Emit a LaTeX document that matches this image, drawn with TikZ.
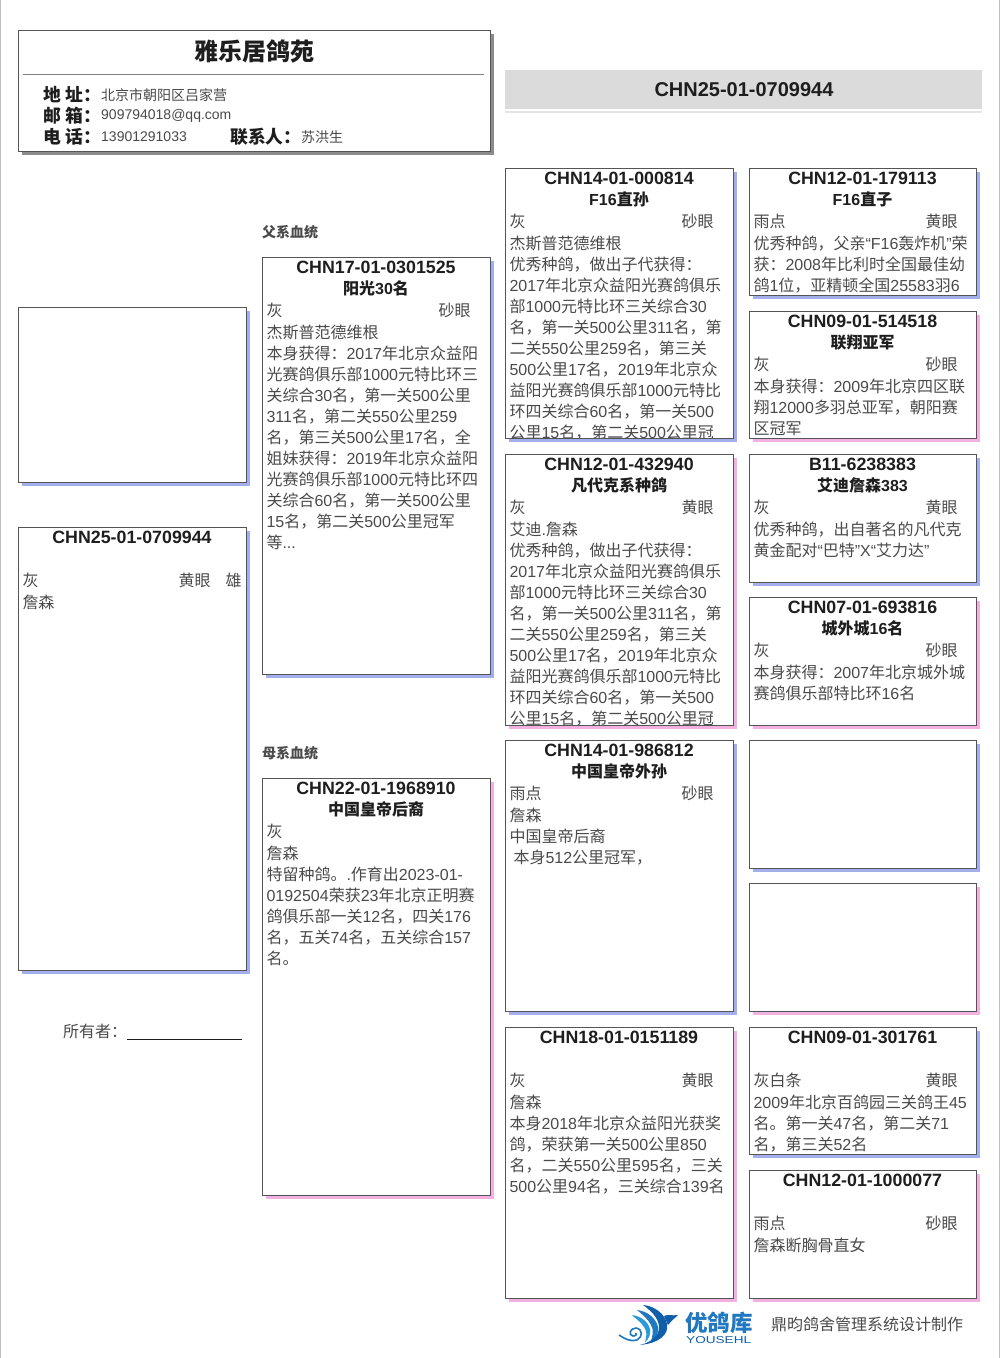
\documentclass[tikz,border=0pt]{standalone}
\usepackage{fontspec}
\setmainfont{Liberation Sans}
\newfontfamily\latfam{Liberation Sans}
\newfontfamily\cjkfam{Noto Sans CJK SC}
\newXeTeXintercharclass\CJKcls
\XeTeXinterchartokenstate=1
\count255="4E00 \loop\XeTeXcharclass\count255=\CJKcls\ifnum\count255<"9FFF\advance\count255 1 \repeat
\count255="3000 \loop\XeTeXcharclass\count255=\CJKcls\ifnum\count255<"303F\advance\count255 1 \repeat
\count255="FF00 \loop\XeTeXcharclass\count255=\CJKcls\ifnum\count255<"FFEF\advance\count255 1 \repeat
\XeTeXinterchartoks 0 \CJKcls={\cjkfam}
\XeTeXinterchartoks 4095 \CJKcls={\cjkfam}
\XeTeXinterchartoks \CJKcls 0={\latfam}
\XeTeXinterchartoks 4095 0={\latfam}
\usetikzlibrary{calc}
\definecolor{shblue}{HTML}{A3AEEC}
\definecolor{shpink}{HTML}{F3B0E2}
\definecolor{edge}{HTML}{555555}
\definecolor{bodytx}{HTML}{4A4A4A}
\definecolor{titletx}{HTML}{1E1E1E}
\definecolor{logoA}{HTML}{2A9AD8}
\definecolor{logoB}{HTML}{0F5FA8}
\definecolor{logoC}{HTML}{1F78C0}
\tikzset{
  x=1pt,y=-1pt,
  box/.style={draw=edge,line width=1pt,fill=white},
  tx/.style={inner sep=0pt,outer sep=0pt,text=bodytx,font=\fontsize{16}{21}\selectfont},
  cardid/.style={inner sep=0pt,text=titletx,font=\fontsize{17.8}{20}\selectfont\bfseries},
  cardsub/.style={inner sep=0pt,text=titletx,font=\fontsize{16}{20}\selectfont\bfseries},
  bodyblock/.style={tx,anchor=north west,align=left},
  lab/.style={inner sep=0pt,anchor=west,text=titletx,font=\fontsize{17.8}{20}\selectfont\bfseries},
  val/.style={inner sep=0pt,anchor=west,text=bodytx,font=\fontsize{14}{18}\selectfont},
  seclab/.style={inner sep=0pt,anchor=west,text=bodytx,font=\fontsize{14}{16}\selectfont\bfseries},
}
% name, x0, y0, x1, y1, shadow
\newcommand{\frameof}[6]{%
  \fill[#6] (#2+4,#3+4) rectangle (#4+4,#5+4);
  \node[box,minimum width=#4-#2,minimum height=#5-#3,inner sep=0pt,anchor=north west] (#1) at (#2-.5,#3-.5) {};
}
% name, x0, y0, x1, y1, shadow, id, sub, plumage, eye, body
\newcommand{\cardof}[6]{\frameof{#1}{#2}{#3}{#4}{#5}{#6}%
  \def\cn{#1}\def\cxa{#2}\def\cya{#3}\def\cxb{#4}\def\cyb{#5}\cardrest}
\newcommand{\cardrest}[5]{%
  \begin{scope}
  \clip (\cxa,\cya) rectangle (\cxb-1,\cyb-1);
  \node[cardid] (\cn-id) at ({(\cxa+\cxb)/2},\cya+10.3) {#1};
  \node[cardsub] (\cn-sub) at ({(\cxa+\cxb)/2},\cya+31.3) {#2};
  \node[tx,anchor=west] (\cn-col) at (\cxa+4.5,\cya+53) {#3};
  \node[tx,anchor=west] (\cn-eye) at (\cxa+176.5,\cya+53) {#4};
  \node[bodyblock] (\cn-body) at (\cxa+4.5,\cya+65.5) {\rule{0pt}{16pt}#5};
  \end{scope}
}
\begin{document}
\begin{tikzpicture}
\useasboundingbox (0,0) rectangle (1000,1358);
\fill[white] (0,0) rectangle (1000,1358);
\fill[black!25] (0,0) rectangle (1.2,1358);
\fill[black!25] (998.6,0) rectangle (1000,1358);
% header
\frameof{head}{18}{30}{490}{151}{black!45}
\node[inner sep=0pt,text=titletx,font=\fontsize{24}{26}\selectfont\bfseries] (headtitle) at (254,51) {雅乐居鸽苑};
\coordinate (ruleL) at (23,74); \coordinate (ruleR) at (484,74);
\draw[black!50,line width=.8pt] (ruleL) -- (ruleR);
\node[lab] (l1) at (43,94.5) {地\hspace*{5pt}址：};
\node[lab] (l2) at (43,115.5) {邮\hspace*{5pt}箱：};
\node[lab] (l3) at (43,136.5) {电\hspace*{5pt}话：};
\node[val] (v1) at (101,95) {北京市朝阳区吕家营};
\node[val] (v2) at (101,116) {909794018@qq.com};
\node[val] (v3) at (101,137) {13901291033};
\node[lab] (l4) at (230,136.5) {联系人：};
\node[val] (v4) at (301,137) {苏洪生};
% banner
\fill[black!14] (505,70) rectangle (982,109);
\fill[black!10] (505,111) rectangle (982,113);
\node[inner sep=0pt,text=titletx,font=\fontsize{20}{24}\selectfont\bfseries] (bannerid) at (744,89.5) {CHN25-01-0709944};
% section labels
\node[seclab] (patlab) at (262,232) {父系血统};
\node[seclab] (matlab) at (262,753) {母系血统};
% photo
\frameof{photo}{18}{307}{246}{482}{shblue}
% self card
\frameof{self}{18}{527}{246}{970}{shblue}
\node[cardid] (self-id) at (132,537.5) {CHN25-01-0709944};
\node[tx,anchor=west] (self-col) at (22.5,580) {灰};
\node[tx,anchor=west] (self-eye) at (178.5,580) {黄眼};
\node[tx,anchor=west] (self-sex) at (225.5,580) {雄};
\node[tx,anchor=west] (self-str) at (22.5,602) {詹森};
\node[tx,anchor=west] (owner) at (63,1031.5) {所有者：};
\coordinate (ownerA) at (127,1039); \coordinate (ownerB) at (242,1039);
\draw[titletx,line width=.8pt] (ownerA) -- (ownerB);
% column 2
\cardof{f}{262}{257}{490}{674}{shblue}{CHN17-01-0301525}{阳光30名}{灰}{砂眼}{杰斯普范德维根\\本身获得：2017年北京众益阳\\光赛鸽俱乐部1000元特比环三\\关综合30名，第一关500公里\\311名，第二关550公里259\\名，第三关500公里17名，全\\姐妹获得：2019年北京众益阳\\光赛鸽俱乐部1000元特比环四\\关综合60名，第一关500公里\\15名，第二关500公里冠军\\等...}
\cardof{m}{262}{778}{490}{1195}{shpink}{CHN22-01-1968910}{中国皇帝后裔}{灰}{}{詹森\\特留种鸽。.作育出2023-01-\\0192504荣获23年北京正明赛\\鸽俱乐部一关12名，四关176\\名，五关74名，五关综合157\\名。}
% column 3
\cardof{ff}{505}{168}{733}{438}{shblue}{CHN14-01-000814}{F16直孙}{灰}{砂眼}{杰斯普范德维根\\优秀种鸽，做出子代获得：\\2017年北京众益阳光赛鸽俱乐\\部1000元特比环三关综合30\\名，第一关500公里311名，第\\二关550公里259名，第三关\\500公里17名，2019年北京众\\益阳光赛鸽俱乐部1000元特比\\环四关综合60名，第一关500\\公里15名，第二关500公里冠}
\cardof{fm}{505}{454}{733}{725}{shpink}{CHN12-01-432940}{凡代克系种鸽}{灰}{黄眼}{艾迪.詹森\\优秀种鸽，做出子代获得：\\2017年北京众益阳光赛鸽俱乐\\部1000元特比环三关综合30\\名，第一关500公里311名，第\\二关550公里259名，第三关\\500公里17名，2019年北京众\\益阳光赛鸽俱乐部1000元特比\\环四关综合60名，第一关500\\公里15名，第二关500公里冠}
\cardof{mf}{505}{740}{733}{1011}{shblue}{CHN14-01-986812}{中国皇帝外孙}{雨点}{砂眼}{詹森\\中国皇帝后裔\\\hspace*{4pt}本身512公里冠军，}
\cardof{mm}{505}{1027}{733}{1298}{shpink}{CHN18-01-0151189}{}{灰}{黄眼}{詹森\\本身2018年北京众益阳光获奖\\鸽，荣获第一关500公里850\\名，二关550公里595名，三关\\500公里94名，三关综合139名}
% column 4
\cardof{fff}{749}{168}{976}{295}{shblue}{CHN12-01-179113}{F16直子}{雨点}{黄眼}{优秀种鸽，父亲“F16轰炸机”荣\\获：2008年比利时全国最佳幼\\鸽1位，亚精顿全国25583羽6}
\cardof{ffm}{749}{311}{976}{438}{shpink}{CHN09-01-514518}{联翔亚军}{灰}{砂眼}{本身获得：2009年北京四区联\\翔12000多羽总亚军，朝阳赛\\区冠军}
\cardof{fmf}{749}{454}{976}{582}{shblue}{B11-6238383}{艾迪詹森383}{灰}{黄眼}{优秀种鸽，出自著名的凡代克\\黄金配对“巴特”X“艾力达”}
\cardof{fmm}{749}{597}{976}{725}{shpink}{CHN07-01-693816}{城外城16名}{灰}{砂眼}{本身获得：2007年北京城外城\\赛鸽俱乐部特比环16名}
\frameof{mff}{749}{740}{976}{868}{shblue}
\frameof{mfm}{749}{883}{976}{1011}{shpink}
\cardof{mmf}{749}{1027}{976}{1154}{shblue}{CHN09-01-301761}{}{灰白条}{黄眼}{2009年北京百鸽园三关鸽王45\\名。第一关47名，第二关71\\名，第三关52名}
\cardof{mmm}{749}{1170}{976}{1298}{shpink}{CHN12-01-1000077}{}{雨点}{砂眼}{詹森断胸骨直女}
% footer logo
\fill[logoA] (632,1315) .. controls (640,1316) and (648,1321) .. (650,1329) .. controls (651,1334) and (649,1339) .. (645,1342) .. controls (647,1336) and (647,1331) .. (644,1327) .. controls (641,1322) and (636,1319) .. (632,1315) -- cycle;
\fill[logoC] (637,1310) .. controls (647,1311) and (656,1318) .. (658,1327) .. controls (659,1333) and (656,1339) .. (650,1343) .. controls (653,1336) and (654,1330) .. (651,1325) .. controls (648,1319) and (642,1314) .. (637,1310) -- cycle;
\fill[logoB] (643,1305) .. controls (655,1306) and (665,1314) .. (667,1324) .. controls (669,1334) and (660,1343) .. (640,1345) .. controls (652,1342) and (660,1335) .. (659,1326) .. controls (658,1317) and (650,1310) .. (643,1305) -- cycle;
\fill[logoB] (664,1316) .. controls (668,1314) and (672,1316) .. (678,1315) .. controls (675,1318) and (672,1320) .. (668,1325) -- cycle;
\draw[logoC,line width=1.6pt] (619,1335) .. controls (625,1339) and (631,1342) .. (637,1340) .. controls (643,1337) and (643,1329) .. (636,1328) .. controls (630,1328) and (628,1335) .. (633,1336) .. controls (636,1336) and (637,1334) .. (636,1333);
\node[inner sep=0pt,anchor=west,text=logoC,font=\fontsize{22.5}{24}\selectfont\bfseries] (logotx) at (685,1323) {优鸽库};
\node[inner sep=0pt,anchor=west,text=logoB,font=\fontsize{10}{12}\selectfont] (logosub) at (686,1340) {\scalebox{1.36}[1]{YOUSEHL}};
\node[inner sep=0pt,anchor=west,text=bodytx,font=\fontsize{16}{18}\selectfont] (credit) at (771,1324) {鼎昀鸽舍管理系统设计制作};
\end{tikzpicture}
\end{document}
